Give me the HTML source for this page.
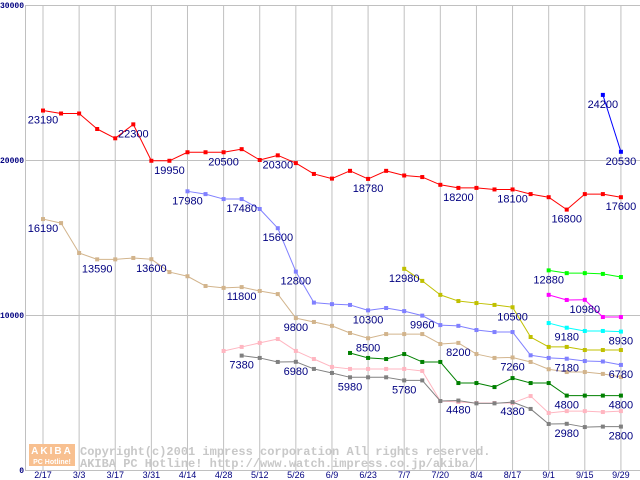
<!DOCTYPE html>
<html><head><meta charset="utf-8"><style>
html,body{margin:0;padding:0;background:#fff;width:640px;height:480px;overflow:hidden}
svg{display:block}
</style></head><body>
<svg id="chart" width="640" height="480" xmlns="http://www.w3.org/2000/svg"></svg>
<script>
const weekLabels = ["2/17","3/3","3/17","3/31","4/14","4/28","5/12","5/26","6/9","6/23","7/7","7/20","8/4","8/17","9/1","9/15","9/29"];
const yTicks = [0,10000,20000,30000];
const N = null;
const redVals =   [23190,23000,23000,22000,21400,22300,19950,19950,20500,20500,20500,20700,20000,20300,19800,19100,18800,19300,18780,19300,19000,18900,18400,18200,18200,18100,18100,17800,17600,16800,17800,17800,17600];
const tanVals =   [16190,15930,14000,13590,13590,13680,13600,12770,12500,11870,11750,11800,11550,11350,9800,9550,9300,8840,8500,8770,8770,8770,8130,8200,7480,7230,7260,6970,6500,6320,6320,6200,6000];
const periVals =  [N,N,N,N,N,N,N,N,17980,17800,17480,17480,16840,15600,12800,10800,10700,10650,10300,10450,10250,9960,9350,9300,9030,8900,8900,7400,7230,7180,7030,7000,6780];
const pinkVals =  [N,N,N,N,N,N,N,N,N,N,7680,7940,8200,8450,7680,7160,6650,6520,6520,6520,6520,6390,4450,4390,4320,4320,4320,4770,3680,3800,3800,3740,3800];
const grayVals =  [N,N,N,N,N,N,N,N,N,N,N,7380,7230,6970,6980,6520,6260,5980,5980,5980,5780,5780,4450,4480,4300,4300,4380,3940,2970,2980,2770,2800,2800];
const dgreenVals= [N,N,N,N,N,N,N,N,N,N,N,N,N,N,N,N,N,7550,7230,7160,7480,6970,6970,5610,5610,5350,5930,5610,5610,4800,4800,4800,4800];
const oliveVals = [N,N,N,N,N,N,N,N,N,N,N,N,N,N,N,N,N,N,N,N,12980,12200,11300,10900,10770,10650,10500,8580,7940,7940,7740,7740,7740];
const limeVals =  [N,N,N,N,N,N,N,N,N,N,N,N,N,N,N,N,N,N,N,N,N,N,N,N,N,N,N,N,12880,12700,12700,12650,12450];
const magVals =   [N,N,N,N,N,N,N,N,N,N,N,N,N,N,N,N,N,N,N,N,N,N,N,N,N,N,N,N,11300,10970,10980,9870,9870];
const cyanVals =  [N,N,N,N,N,N,N,N,N,N,N,N,N,N,N,N,N,N,N,N,N,N,N,N,N,N,N,N,9480,9180,8970,8970,8930];
const blueVals =  [N,N,N,N,N,N,N,N,N,N,N,N,N,N,N,N,N,N,N,N,N,N,N,N,N,N,N,N,N,N,N,24200,20530];
const redLabels = [0,5,7,10,13,18,23,26,29,32];
const tanLabels = [0,3,6,11,14,18,23,26];
const periLabels = [8,11,13,14,18,21,29,32];
const grayLabels = [11,14,17,20,23,26,29,32];
const dgreenLabels = [29,32];
const oliveLabels = [20,26];
const limeLabels = [28];
const magLabels = [30];
const cyanLabels = [29,32];
const blueLabels = [31,32];
const pinkLabels = [];

const svg = document.getElementById('chart');
const NS = 'http://www.w3.org/2000/svg';
const X0 = 43, XS = 18.06, Y0 = 470, YS = 0.0155;
function xs(w){ return X0 + w*XS; }
function ys(v){ return Y0 - v*YS; }
function mk(tag, attrs){ const e=document.createElementNS(NS,tag); for(const k in attrs) e.setAttribute(k,attrs[k]); svg.appendChild(e); return e; }

for (let i=0;i<weekLabels.length;i++){
  const g = mk('line',{x1:xs(i*2),x2:xs(i*2),y1:ys(30000),y2:Y0,stroke:'#c0c0c0','stroke-width':1});
  
  
  const t = mk('text',{x:xs(i*2),y:478,'text-anchor':'middle','font-family':'Liberation Sans, sans-serif','font-size':9,fill:'#000080'});
  t.textContent = weekLabels[i];
  
  
}
for (const v of yTicks){
  const g = mk('line',{x1:25,x2:640,y1:ys(v)+0.5,y2:ys(v)+0.5,stroke:'#c0c0c0','stroke-width':1});
  
  
  const t = mk('text',{x:24,y:ys(v)+3,'text-anchor':'end','font-family':'Liberation Mono, monospace','font-size':8,'font-weight':'bold',fill:'#000080'});
  t.textContent = String(v);
  
  
}
const ax = mk('line',{x1:25.5,x2:25.5,y1:ys(30000),y2:Y0,stroke:'#c0c0c0','stroke-width':1});



const logo = mk('rect',{x:29,y:444,width:46,height:22,fill:'#f8c090'});


const l1 = mk('text',{x:52,y:454,'text-anchor':'middle','font-family':'Liberation Sans, sans-serif','font-size':10,'font-weight':'bold',fill:'#fff','letter-spacing':'2'});
l1.textContent='AKIBA';


const l2 = mk('text',{x:52,y:464,'text-anchor':'middle','font-family':'Liberation Sans, sans-serif','font-size':7,'font-weight':'bold',fill:'#fff'});
l2.textContent='PC Hotline!';


const c1 = mk('text',{x:80,y:455,'font-family':'Liberation Mono, monospace','font-size':12,'font-weight':'bold',fill:'#c8c8c8'});
c1.textContent='Copyright(c)2001 impress corporation All rights reserved.';


const c2 = mk('text',{x:80,y:467,'font-family':'Liberation Mono, monospace','font-size':12,'font-weight':'bold',fill:'#c8c8c8'});
c2.textContent='AKIBA PC Hotline!  http://www.watch.impress.co.jp/akiba/';



function drawSeries(name, vals, color, labels){
  let prev = -1;
  for (let i=0;i<vals.length;i++){
    if (vals[i]===null) continue;
    if (prev>=0){
      const seg = mk('line',{x1:xs(prev),y1:ys(vals[prev]),x2:xs(i),y2:ys(vals[i]),stroke:color,'stroke-width':1});
      if (i-prev>1) seg.setAttribute('stroke-dasharray','2,2');
      
      
    }
    prev = i;
  }
  for (let i=0;i<vals.length;i++){
    if (vals[i]===null) continue;
    const p = mk('rect',{x:xs(i)-2,y:ys(vals[i])-2,width:4,height:4,fill:color});
    
    
  }
  for (const i of labels){
    const t = mk('text',{x:xs(i),y:ys(vals[i])+13,'text-anchor':'middle','font-family':'Liberation Sans, sans-serif','font-size':11,fill:'#000080'});
    t.textContent = String(vals[i]);
    
    
  }
}
drawSeries('pink-series', pinkVals, '#ffb6c1', pinkLabels);
drawSeries('gray-series', grayVals, '#808080', grayLabels);
drawSeries('tan-series', tanVals, '#d2b48c', tanLabels);
drawSeries('periwinkle-series', periVals, '#8080ff', periLabels);
drawSeries('darkgreen-series', dgreenVals, '#008000', dgreenLabels);
drawSeries('olive-series', oliveVals, '#c0c000', oliveLabels);
drawSeries('lime-series', limeVals, '#00ff00', limeLabels);
drawSeries('magenta-series', magVals, '#ff00ff', magLabels);
drawSeries('cyan-series', cyanVals, '#00ffff', cyanLabels);
drawSeries('red-series', redVals, '#ff0000', redLabels);
drawSeries('blue-series', blueVals, '#0000ff', blueLabels);
</script>
</body></html>
